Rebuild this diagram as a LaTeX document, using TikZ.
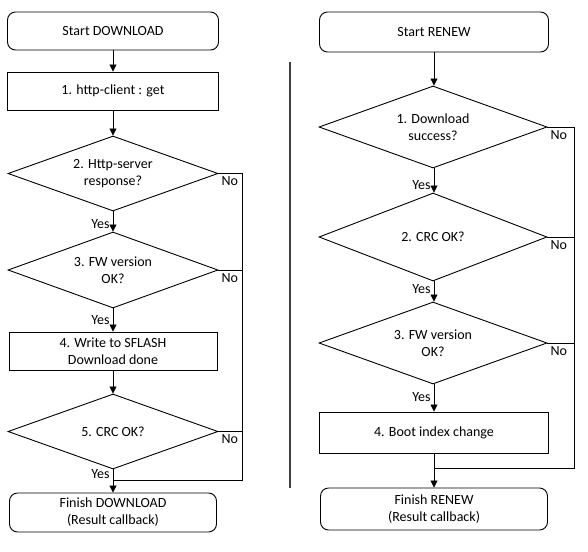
\documentclass[tikz,border=0pt]{standalone}
\usepackage{fontspec}
\setmainfont{Carlito}
\usetikzlibrary{shapes.geometric,arrows.meta}
\begin{document}
\begin{tikzpicture}[x=1pt,y=-1pt,
  every node/.style={font=\fontsize{14}{17}\selectfont, text=black},
  term/.style={draw, line width=0.9pt, rounded corners=8pt, minimum height=38pt, inner sep=0pt, align=center},
  procbox/.style={draw, line width=0.9pt, minimum height=38pt, inner sep=0pt, align=center},
  decide/.style={draw, line width=0.9pt, diamond, inner sep=0pt, align=center},
  arr/.style={line width=0.8pt, -{Triangle[length=7pt,width=7pt]}},
  lin/.style={line width=0.8pt},
  yes/.style={left, inner sep=3pt},
  no/.style={below right, inner sep=3pt}
]
\useasboundingbox (0,0) rectangle (588,551);

% left column
\node[term, minimum width=211pt] (s1) at (113,31) {Start DOWNLOAD};
\node[procbox, minimum width=211pt] (b1) at (113,91) {1. http-client : get};
\node[decide, aspect=2.8, minimum width=210pt, minimum height=75pt] (d2) at (113,173.5) {2. Http-server\\response?};
\node[decide, aspect=2.76, minimum width=210pt, minimum height=76pt] (d3) at (113,270) {3. FW version\\OK?};
\node[procbox, minimum width=208pt] (b4) at (113,351) {4. Write to SFLASH\\Download done};
\node[decide, aspect=2.8, minimum width=210pt, minimum height=75pt] (d5) at (113,431.5) {5. CRC OK?};
\node[term, minimum width=207pt, minimum height=39pt] (f1) at (113,512.5) {Finish DOWNLOAD\\(Result callback)};

\coordinate (jl) at (113,480);
\coordinate (rl) at (242,480);

\draw[arr] (s1) -- (b1);
\draw[arr] (b1) -- (d2);
\draw[arr] (d2) -- node[yes, pos=0.65] {Yes} (d3);
\draw[arr] (d3) -- node[yes, pos=0.5] {Yes} (b4);
\draw[arr] (b4) -- (d5);
\draw[arr] (d5) -- node[yes, pos=0.2] {Yes} (f1);
\draw[lin] (d2.east) -| (rl) -- (jl);
\draw[lin] (d3.east) -- (d3.east -| rl);
\draw[lin] (d5.east) -- (d5.east -| rl);
\node[no] at (d2.east) {No};
\node[no] at (d3.east) {No};
\node[no] at (d5.east) {No};

% separator
\coordinate (sepa) at (290,62);
\coordinate (sepb) at (290,488);
\draw[line width=1.6pt, draw=black!75] (sepa) -- (sepb);

% right column
\node[term, minimum width=229pt, minimum height=40pt] (s2) at (434,32) {Start RENEW};
\node[decide, aspect=2.78, minimum width=228pt, minimum height=82pt] (r1) at (433,127) {1. Download\\success?};
\node[decide, aspect=2.59, minimum width=228pt, minimum height=88pt] (r2) at (433,237) {2. CRC OK?};
\node[decide, aspect=2.78, minimum width=228pt, minimum height=82pt] (r3) at (433,343) {3. FW version\\OK?};
\node[procbox, minimum width=229pt, minimum height=41pt] (r4) at (434,432.5) {4. Boot index change};
\node[term, minimum width=227pt, minimum height=42pt] (f2) at (434,509) {Finish RENEW\\(Result callback)};

\coordinate (jr) at (434,468);
\coordinate (rr) at (574,468);

\draw[arr] (s2) -- (s2 |- r1.north);
\draw[arr] (r1.south -| s2) -- node[yes, pos=0.7] {Yes} (r2.north -| s2);
\draw[arr] (r2.south -| s2) -- node[yes, pos=0.4] {Yes} (r3.north -| s2);
\draw[arr] (r3.south -| s2) -- node[yes, pos=0.45] {Yes} (r4);
\draw[arr] (r4) -- (f2);
\draw[lin] (r1.east) -| (rr) -- (jr);
\draw[lin] (r2.east) -- (r2.east -| rr);
\draw[lin] (r3.east) -- (r3.east -| rr);
\node[no] at (r1.east) {No};
\node[no] at (r2.east) {No};
\node[no] at (r3.east) {No};
\end{tikzpicture}
\end{document}
